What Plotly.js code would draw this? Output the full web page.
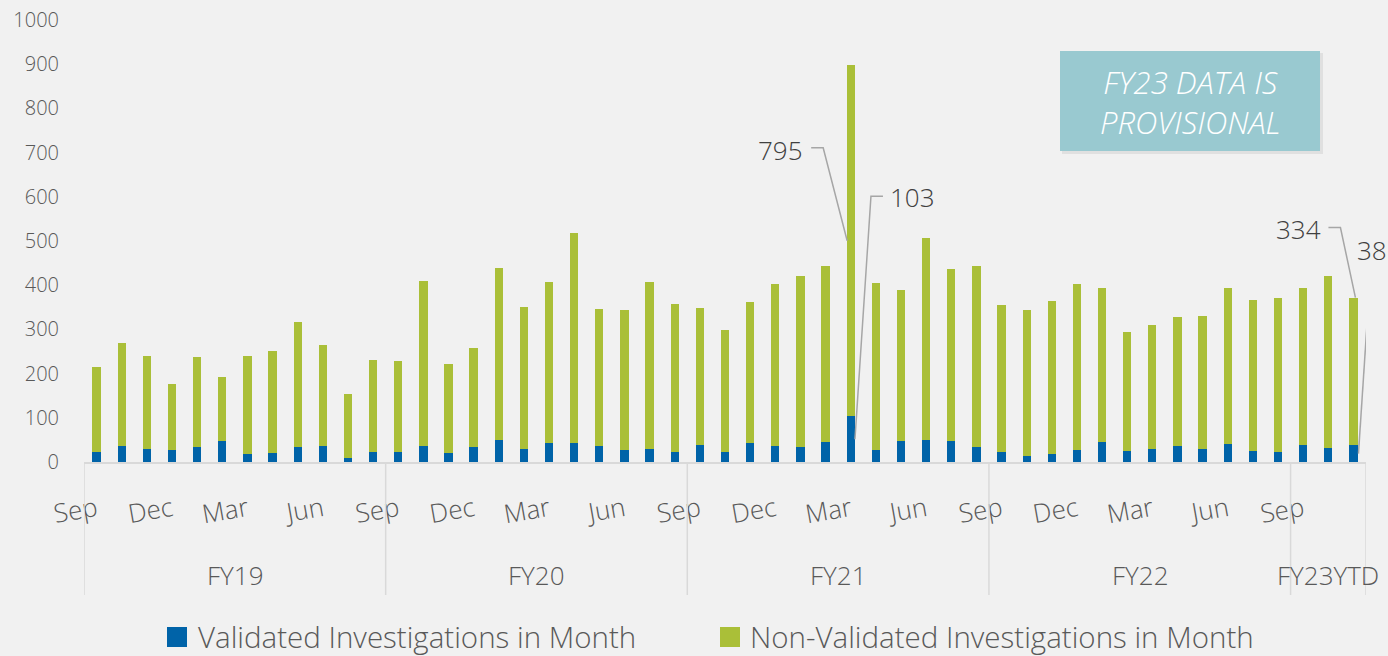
<!DOCTYPE html>
<html>
<head>
<meta charset="utf-8">
<script src="https://cdn.plot.ly/plotly-3.0.1.min.js"></script>
<style>
  html, body { margin: 0; padding: 0; background: #f1f1f1; }
  #chart { width: 1388px; height: 656px; }
</style>
</head>
<body>
<div id="chart"></div>
<script>
// ---- Data ----
const fiscalYears = ['FY19', 'FY20', 'FY21', 'FY22', 'FY23YTD'];
const monthsPerYear = [12, 12, 12, 12, 3];
const monthNames = ['Sep', 'Oct', 'Nov', 'Dec', 'Jan', 'Feb', 'Mar', 'Apr', 'May', 'Jun', 'Jul', 'Aug'];

const validated = [
  22, 36, 30, 28, 33, 48, 19, 21, 34, 36, 8, 23,
  23, 37, 21, 35, 50, 29, 43, 43, 36, 28, 30, 23,
  38, 23, 43, 36, 33, 46, 103, 28, 47, 49, 48, 34,
  22, 14, 19, 27, 46, 25, 29, 37, 30, 41, 26, 23,
  39, 31, 38
];
const nonValidated = [
  192, 233, 210, 149, 204, 144, 221, 230, 283, 229, 146, 208,
  206, 372, 200, 222, 389, 322, 365, 475, 310, 317, 377, 334,
  310, 275, 320, 366, 387, 397, 795, 378, 343, 458, 388, 409,
  333, 331, 345, 375, 348, 268, 280, 291, 301, 353, 340, 349,
  355, 389, 334
];
const seriesNames = ['Validated Investigations in Month', 'Non-Validated Investigations in Month'];
const yTicks = [0, 100, 200, 300, 400, 500, 600, 700, 800, 900, 1000];
const noteText = 'FY23 DATA IS<br>PROVISIONAL';

// ---- Build categories ----
const categories = [];
const monthLabels = [];
const groupStart = [];
fiscalYears.forEach((fy, g) => {
  groupStart.push(categories.length);
  for (let m = 0; m < monthsPerYear[g]; m++) {
    categories.push(fy + ' ' + monthNames[m]);
    monthLabels.push(monthNames[m]);
  }
});
const tickvals = categories.filter((c, i) => i % 3 === 0);
const ticktext = monthLabels.filter((c, i) => i % 3 === 0);

// ---- Styles ----
const BLUE = '#0063a8';
const GREEN = '#aabf38';
const TXT = '#595959';
const FONT = 'Open Sans, Noto Sans, sans-serif';

// plot area pixels
const L = 84, R = 1366, T = 20, B = 462;
const px = x => (x - L) / (R - L);
const py = y => (B - y) / (B - T);

const traces = [
  { type: 'bar', name: seriesNames[0], x: categories, y: validated,
    marker: { color: BLUE }, hoverinfo: 'skip' },
  { type: 'bar', name: seriesNames[1], x: categories, y: nonValidated,
    marker: { color: GREEN }, hoverinfo: 'skip' }
];

const shapes = [];
const annotations = [];

// group divider lines below axis
const n = categories.length;
const bounds = groupStart.map(s => s - 0.5).concat([n - 0.5]);
bounds.forEach(b => {
  shapes.push({ type: 'line', xref: 'x', yref: 'paper', x0: b, x1: b, y0: 0, y1: py(595),
    line: { color: '#d9d9d9', width: 1.5 } });
});
// group labels
fiscalYears.forEach((fy, g) => {
  const c = groupStart[g] + (monthsPerYear[g] - 1) / 2;
  annotations.push({ xref: 'x', yref: 'paper', x: c, y: py(575), text: fy, showarrow: false,
    font: { family: FONT, size: 26, color: TXT, weight: 300 }, xanchor: 'center', yanchor: 'middle' });
});

// leader lines & data labels for highlighted bars
const iPeak = validated.indexOf(Math.max(...validated));
const iLast = n - 1;
const lineStyle = { color: '#a6a6a6', width: 1.5 };
function leader(xIdx, yVal, path) {
  shapes.push({ type: 'path', xref: 'x', yref: 'y', xsizemode: 'pixel', ysizemode: 'pixel',
    xanchor: xIdx, yanchor: yVal, path: path, line: lineStyle });
}
function label(xIdx, yVal, text, dx, dy, anchor) {
  annotations.push({ xref: 'x', yref: 'y', x: xIdx, y: yVal, text: String(text), showarrow: false,
    xshift: dx, yshift: dy, xanchor: anchor, yanchor: 'middle',
    font: { family: FONT, size: 26, color: '#404040', weight: 300 } });
}
// peak non-validated
const pNv = validated[iPeak] + nonValidated[iPeak] / 2;
leader(iPeak - 0.14, pNv, 'M 0,0 L -24,93 L -36,93');
label(iPeak - 0.14, pNv, nonValidated[iPeak], -42, 91, 'right');
// peak validated
const pV = validated[iPeak] / 2;
leader(iPeak + 0.17, pV, 'M 0,0 L 16,243 L 28,243');
label(iPeak + 0.17, pV, validated[iPeak], 33, 242, 'left');
// last non-validated (top)
const lNv = validated[iLast] + nonValidated[iLast];
leader(iLast + 0.08, lNv, 'M 0,0 L -15,70 L -27,70');
label(iLast + 0.08, lNv, nonValidated[iLast], -32, 69, 'right');
// last validated
const lV = validated[iLast] / 2;
leader(iLast + 0.2, lV, 'M 0,0 L 12,182');
label(iLast + 0.2, lV, validated[iLast], -3, 204, 'left');

// provisional note box
shapes.push({ type: 'rect', xref: 'paper', yref: 'paper', x0: px(1062), x1: px(1323), y0: py(154), y1: py(53),
  fillcolor: 'rgba(0,0,0,0.07)', line: { width: 0 } });
shapes.push({ type: 'rect', xref: 'paper', yref: 'paper', x0: px(1060), x1: px(1320), y0: py(151), y1: py(51),
  fillcolor: '#99c9d0', line: { width: 0 } });
annotations.push({ xref: 'paper', yref: 'paper', x: px(1190), y: py(102), text: noteText, showarrow: false,
  xanchor: 'center', yanchor: 'middle', align: 'center',
  font: { family: FONT, size: 31, color: '#ffffff', style: 'italic', weight: 300 } });

// manual legend
const legendItems = [
  { sq: 167, tx: 196, color: BLUE, name: seriesNames[0] },
  { sq: 720, tx: 748, color: GREEN, name: seriesNames[1] }
];
legendItems.forEach(it => {
  shapes.push({ type: 'rect', xref: 'paper', yref: 'paper', x0: px(it.sq), x1: px(it.sq + 20),
    y0: py(647), y1: py(627), fillcolor: it.color, line: { width: 0 } });
  annotations.push({ xref: 'paper', yref: 'paper', x: px(it.tx), y: py(636), text: it.name, showarrow: false,
    xanchor: 'left', yanchor: 'middle', font: { family: FONT, size: 29.5, color: TXT, weight: 300 } });
});

const layout = {
  width: 1388, height: 656,
  paper_bgcolor: '#f1f1f1', plot_bgcolor: '#f1f1f1',
  margin: { l: L, r: 1388 - R, t: T, b: 656 - B },
  barmode: 'stack', bargap: 0.67,
  showlegend: false,
  font: { family: FONT, color: TXT },
  xaxis: {
    type: 'category', categoryorder: 'array', categoryarray: categories,
    range: [-0.5, n - 0.5],
    tickmode: 'array', tickvals: tickvals, ticktext: ticktext,
    tickangle: -10, ticks: '', ticklabelstandoff: 21,
    tickfont: { family: FONT, size: 26, color: TXT, weight: 300 },
    showline: true, linecolor: '#d9d9d9', linewidth: 1.5,
    showgrid: false, zeroline: false, fixedrange: true
  },
  yaxis: {
    range: [0, 1000], tickmode: 'array', tickvals: yTicks,
    ticks: '', ticklabelstandoff: 24,
    tickfont: { family: FONT, size: 20, color: TXT, weight: 300 },
    showgrid: false, zeroline: false, showline: false, fixedrange: true
  },
  shapes: shapes,
  annotations: annotations
};

Plotly.newPlot('chart', traces, layout, { displayModeBar: false, staticPlot: true });
</script>
</body>
</html>
